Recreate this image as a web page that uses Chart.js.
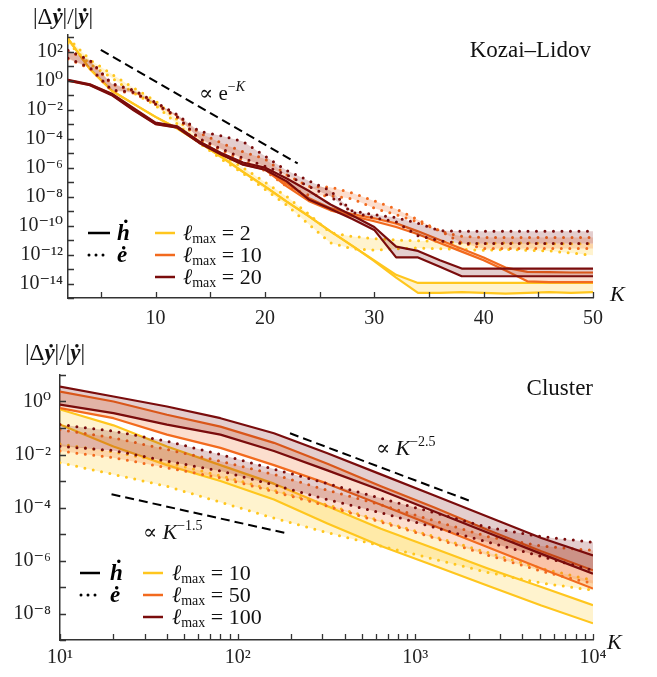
<!DOCTYPE html>
<html>
<head>
<meta charset="utf-8">
<script src="https://cdn.jsdelivr.net/npm/chart.js@4.4.1/dist/chart.umd.min.js"></script>
<style>
html, body { margin: 0; padding: 0; background: #fff; }
#wrap { position: relative; width: 657px; height: 677px; }
canvas { position: absolute; left: 0; }
#kozai { top: 0; }
#cluster { top: 340px; }
</style>
</head>
<body>
<div id="wrap">
<canvas id="kozai" width="657" height="340"></canvas>
<canvas id="cluster" width="657" height="337"></canvas>
</div>
<script>
// values are stored as log10 of |dy|/|y|

// --- Kozai-Lidov panel ---
const kozaiK = [2, 4, 6, 8, 10, 12, 14, 16, 18, 20, 22, 24, 26, 28, 30, 32, 34, 36, 38, 40, 42, 44, 46, 48, 50];

const kozaiH2Hi = [2.9, 0.8, -0.7, -1.6, -2.5, -3.3, -4.25, -5.25, -6.3, -7.3, -8.35, -9.35, -10.4, -11.4, -12.4, -13.4, -13.96, -13.96, -13.96, -13.96, -13.95, -13.95, -13.96, -13.96, -13.96];
const kozaiH2Lo = [2.9, 0.8, -0.7, -1.6, -2.5, -3.3, -4.25, -5.25, -6.3, -7.3, -8.35, -9.35, -10.4, -11.4, -12.45, -13.6, -14.65, -14.65, -14.6, -14.65, -14.7, -14.65, -14.6, -14.65, -14.6];
const kozaiH10Hi = [0.03, -0.27, -0.92, -1.95, -2.93, -3.18, -4.23, -5.02, -5.68, -6.05, -7.1, -8.1, -8.8, -9.2, -9.5, -9.85, -10.4, -11.0, -11.6, -12.2, -12.9, -13.2, -13.22, -13.24, -13.24];
const kozaiH10Lo = [0.0, -0.3, -0.96, -2.02, -2.98, -3.23, -4.28, -5.08, -5.78, -6.12, -7.3, -8.3, -8.95, -9.35, -9.7, -10.1, -10.6, -11.2, -11.8, -12.4, -13.1, -13.85, -13.9, -13.9, -13.9];
const kozaiH20Hi = [0.05, -0.25, -0.9, -1.9, -2.9, -3.15, -4.2, -5.0, -5.65, -6.0, -6.75, -7.6, -8.55, -9.3, -10.1, -11.45, -11.75, -12.4, -12.97, -12.97, -12.97, -12.97, -12.97, -12.97, -12.97];
const kozaiH20Lo = [0.0, -0.32, -1.0, -2.05, -3.0, -3.25, -4.3, -5.1, -5.8, -6.15, -6.95, -8.2, -8.85, -9.55, -10.3, -12.2, -12.2, -12.85, -13.5, -13.5, -13.5, -13.5, -13.5, -13.5, -13.5];

const kozaiE2Hi = [2.95, 1.45, 0.45, -0.5, -1.4, -2.7, -4.0, -5.1, -6.0, -7.0, -8.0, -9.2, -10.5, -10.75, -10.9, -11.0, -11.05, -11.1, -11.2, -11.25, -11.2, -11.2, -11.25, -11.25, -11.25];
const kozaiE2Lo = [2.6, 1.15, 0.2, -0.85, -1.7, -3.0, -4.3, -5.4, -6.4, -7.5, -8.6, -9.9, -11.2, -11.6, -11.7, -11.6, -11.55, -11.6, -11.65, -11.7, -11.65, -11.7, -11.75, -11.9, -12.05];
const kozaiE10Hi = [2.05, 1.35, -0.25, -0.7, -1.55, -2.4, -3.6, -4.3, -4.9, -5.4, -6.5, -7.3, -7.35, -7.75, -8.3, -8.85, -9.6, -10.4, -10.75, -10.82, -10.82, -10.82, -10.82, -10.82, -10.82];
const kozaiE10Lo = [1.5, 0.85, -0.7, -0.85, -1.65, -2.55, -4.05, -4.8, -5.5, -6.2, -7.3, -7.9, -7.95, -8.15, -8.8, -9.25, -9.75, -10.35, -11.2, -11.58, -11.58, -11.58, -11.58, -11.58, -11.58];
const kozaiE20Hi = [2.1, 1.4, -0.2, -0.65, -1.5, -2.35, -3.5, -3.8, -4.2, -5.2, -6.2, -6.9, -7.6, -9.0, -9.25, -9.45, -9.85, -10.35, -10.4, -10.4, -10.4, -10.4, -10.4, -10.4, -10.4];
const kozaiE20Lo = [1.55, 0.9, -0.65, -0.8, -1.6, -2.5, -4.0, -4.7, -5.35, -5.9, -6.5, -7.3, -8.0, -9.1, -9.45, -9.75, -10.7, -11.05, -11.24, -11.24, -11.24, -11.24, -11.24, -11.24, -11.24];

const kozaiGuideK = [5, 23];
const kozaiGuideExp = [2.12, -5.71];

const kozaiXTicks = [5, 10, 15, 20, 25, 30, 35, 40, 45, 50];
const kozaiYTicks = [-15, -14, -13, -12, -11, -10, -9, -8, -7, -6, -5, -4, -3, -2, -1, 0, 1, 2, 3];

// --- Cluster panel ---
const clusterK = [10, 20, 40, 80, 160, 320, 640, 1280, 2560, 5120, 10000];

const clusterH10Hi = [-0.3, -0.9, -1.7, -2.4, -3.1, -3.95, -4.8, -5.55, -6.3, -7.0, -7.69];
const clusterH10Lo = [-0.87, -1.7, -2.4, -3.0, -3.7, -4.6, -5.45, -6.2, -6.95, -7.7, -8.37];
const clusterH50Hi = [0.375, 0.0, -0.5, -0.95, -1.56, -2.35, -3.2, -4.0, -4.85, -5.65, -6.37];
const clusterH50Lo = [-0.25, -0.63, -1.25, -1.75, -2.4, -3.1, -3.9, -4.7, -5.5, -6.3, -7.06];
const clusterH100Hi = [0.56, 0.19, -0.19, -0.63, -1.2, -1.95, -2.75, -3.55, -4.35, -5.15, -5.81];
const clusterH100Lo = [-0.12, -0.44, -0.87, -1.25, -1.87, -2.6, -3.35, -4.15, -4.95, -5.75, -6.5];

const clusterE10Hi = [-1.6, -1.9, -2.3, -2.8, -3.35, -3.9, -4.5, -5.1, -5.7, -6.3, -6.75];
const clusterE10Lo = [-2.31, -2.75, -3.2, -3.8, -4.4, -4.95, -5.45, -5.95, -6.45, -6.85, -7.12];
const clusterE50Hi = [-1.06, -1.37, -1.81, -2.25, -2.75, -3.35, -3.9, -4.5, -5.1, -5.45, -5.62];
const clusterE50Lo = [-1.87, -2.12, -2.5, -2.88, -3.4, -3.95, -4.55, -5.15, -5.8, -6.4, -6.87];
const clusterE100Hi = [-0.87, -1.12, -1.5, -2.0, -2.55, -3.1, -3.65, -4.2, -4.75, -5.1, -5.31];
const clusterE100Lo = [-1.69, -1.85, -2.25, -2.62, -3.15, -3.7, -4.2, -4.75, -5.3, -5.85, -6.37];

const clusterGuide25K = [197, 2028];
const clusterGuide25Exp = [-1.2, -3.75];
const clusterGuide15K = [19.5, 185];
const clusterGuide15Exp = [-3.5, -4.96];

const clusterXTicks = [10, 20, 30, 40, 50, 60, 70, 80, 90, 100, 200, 300, 400, 500, 600, 700, 800, 900,
  1000, 2000, 3000, 4000, 5000, 6000, 7000, 8000, 9000, 10000];
const clusterYTicks = [-9, -8, -7, -6, -5, -4, -3, -2, -1, 0, 1];

// --- styling ---
const YELLOW = '#ffc61e';
const ORANGE = '#f26a1e';
const DARK = '#7a0c0c';
const YELLOW_FILL = 'rgba(255, 200, 30, 0.22)';
const ORANGE_FILL = 'rgba(242, 106, 30, 0.22)';
const DARK_FILL = 'rgba(122, 12, 12, 0.2)';
const SERIF = '"Liberation Serif", "DejaVu Serif", serif';

const SUP = { '0': '⁰', '1': '¹', '2': '²', '3': '³', '4': '⁴', '5': '⁵', '6': '⁶', '7': '⁷', '8': '⁸', '9': '⁹', '-': '⁻' };
const sup = n => String(n).split('').map(c => SUP[c] || c).join('');

const pts = (ks, ex) => ks.map((k, i) => ({ x: k, y: Math.pow(10, ex[i]) }));

function band(ks, hi, lo, color, fillColor, dotted) {
  const base = {
    borderColor: color,
    borderWidth: dotted ? 3 : 2.2,
    borderDash: dotted ? [0, 8.5] : [],
    borderCapStyle: dotted ? 'round' : 'butt',
    borderJoinStyle: 'round',
    pointRadius: 0,
    tension: 0,
  };
  return [
    { ...base, data: pts(ks, hi), fill: false },
    { ...base, data: pts(ks, lo), fill: '-1', backgroundColor: fillColor },
  ];
}

function guide(ks, ex) {
  return {
    data: pts(ks, ex),
    borderColor: '#000',
    borderWidth: 2,
    borderDash: [9, 5],
    pointRadius: 0,
    fill: false,
  };
}

// inward tick marks on the left and bottom axes
const inwardTicks = {
  id: 'inwardTicks',
  afterDraw(chart) {
    const { ctx, chartArea: a, scales } = chart;
    ctx.save();
    ctx.strokeStyle = '#333';
    ctx.lineWidth = 1.3;
    ctx.beginPath();
    for (const t of scales.x.ticks) {
      const px = Math.round(scales.x.getPixelForValue(t.value)) + 0.5;
      ctx.moveTo(px, a.bottom);
      ctx.lineTo(px, a.bottom - 6);
    }
    for (const t of scales.y.ticks) {
      const py = Math.round(scales.y.getPixelForValue(t.value)) + 0.5;
      ctx.moveTo(a.left, py);
      ctx.lineTo(a.left + 6, py);
    }
    ctx.stroke();
    ctx.restore();
  }
};

function runs(ctx, x, y, parts) {
  for (const [t, font, dy] of parts) {
    ctx.font = font;
    ctx.fillText(t, x, y + (dy || 0));
    x += ctx.measureText(t).width;
  }
}

const R = s => s + 'px ' + SERIF;
const I = s => 'italic ' + s + 'px ' + SERIF;
const BI = s => 'italic bold ' + s + 'px ' + SERIF;

function yLabel(ctx, x, y) {
  runs(ctx, x, y, [['|Δ', R(23)], ['ẏ', BI(23)], ['|/|', R(23)], ['ẏ', BI(23)], ['|', R(23)]]);
}

function legend(ctx, o) {
  ctx.save();
  ctx.lineWidth = 2.5;
  ctx.strokeStyle = '#000';
  ctx.beginPath();
  ctx.moveTo(o.kx1, o.rows[0]);
  ctx.lineTo(o.kx2, o.rows[0]);
  ctx.stroke();
  ctx.setLineDash([0, 7]);
  ctx.lineCap = 'round';
  ctx.lineWidth = 3;
  ctx.beginPath();
  ctx.moveTo(o.kx1 + 1, o.rows[1]);
  ctx.lineTo(o.kx2, o.rows[1]);
  ctx.stroke();
  ctx.setLineDash([]);
  ctx.lineCap = 'butt';
  ctx.fillStyle = '#000';
  runs(ctx, o.hx, o.rows[0] + 7, [['ḣ', BI(23)]]);
  runs(ctx, o.hx, o.rows[1] + 7, [['ė', BI(23)]]);
  const cols = [YELLOW, ORANGE, DARK];
  o.labels.forEach((lab, i) => {
    const y = o.rows[i];
    ctx.strokeStyle = cols[i];
    ctx.lineWidth = 2.5;
    ctx.beginPath();
    ctx.moveTo(o.cx1, y);
    ctx.lineTo(o.cx2, y);
    ctx.stroke();
    ctx.fillStyle = '#111';
    runs(ctx, o.tx, y + 7, [['ℓ', I(22)], ['max', R(14), 3], [' = ' + lab, R(22)]]);
  });
  ctx.restore();
}

const kozaiText = {
  id: 'kozaiText',
  afterDraw(chart) {
    const ctx = chart.ctx;
    ctx.save();
    ctx.fillStyle = '#111';
    ctx.textAlign = 'left';
    ctx.textBaseline = 'alphabetic';
    yLabel(ctx, 33, 24);
    runs(ctx, 199, 100, [['∝ e', R(21)], ['−', R(14), -9], ['K', I(14), -9]]);
    runs(ctx, 610, 301, [['K', I(22)]]);
    ctx.textAlign = 'right';
    ctx.font = R(23);
    ctx.fillText('Kozai–Lidov', 591, 57);
    ctx.textAlign = 'left';
    legend(ctx, { kx1: 88, kx2: 110, hx: 117, cx1: 155, cx2: 175, tx: 183, rows: [233, 255, 277], labels: ['2', '10', '20'] });
    ctx.restore();
  }
};

const clusterText = {
  id: 'clusterText',
  afterDraw(chart) {
    const ctx = chart.ctx;
    ctx.save();
    ctx.fillStyle = '#111';
    ctx.textAlign = 'left';
    ctx.textBaseline = 'alphabetic';
    yLabel(ctx, 25, 20);
    runs(ctx, 376, 115, [['∝ ', R(21)], ['K', I(22)], ['−2.5', R(14), -9]]);
    runs(ctx, 143, 199, [['∝ ', R(21)], ['K', I(22)], ['−1.5', R(14), -9]]);
    runs(ctx, 607, 309, [['K', I(22)]]);
    ctx.textAlign = 'right';
    ctx.font = R(23);
    ctx.fillText('Cluster', 593, 55);
    ctx.textAlign = 'left';
    legend(ctx, { kx1: 80, kx2: 100, hx: 110, cx1: 143, cx2: 163, tx: 172, rows: [233, 255, 277], labels: ['10', '50', '100'] });
    ctx.restore();
  }
};

const tickFont = { family: SERIF, size: 20 };
const border = { display: true, color: '#333', width: 1.5 };

new Chart(document.getElementById('kozai'), {
  type: 'line',
  data: {
    datasets: [
      guide(kozaiGuideK, kozaiGuideExp),
      ...band(kozaiK, kozaiH20Hi, kozaiH20Lo, DARK, DARK_FILL, false),
      ...band(kozaiK, kozaiE20Hi, kozaiE20Lo, DARK, DARK_FILL, true),
      ...band(kozaiK, kozaiH10Hi, kozaiH10Lo, ORANGE, ORANGE_FILL, false),
      ...band(kozaiK, kozaiE10Hi, kozaiE10Lo, ORANGE, ORANGE_FILL, true),
      ...band(kozaiK, kozaiH2Hi, kozaiH2Lo, YELLOW, YELLOW_FILL, false),
      ...band(kozaiK, kozaiE2Hi, kozaiE2Lo, YELLOW, YELLOW_FILL, true),
    ]
  },
  options: {
    responsive: false,
    animation: false,
    layout: { padding: { left: 0, right: 64, top: 35, bottom: 0 } },
    plugins: { legend: { display: false }, tooltip: { enabled: false } },
    scales: {
      x: {
        type: 'linear',
        min: 2,
        max: 50,
        afterBuildTicks: s => { s.ticks = kozaiXTicks.map(v => ({ value: v })); },
        afterFit: s => { s.height = 42; },
        ticks: {
          autoSkip: false, maxRotation: 0, padding: 9, font: tickFont, color: '#222',
          callback: v => (v % 10 === 0 ? String(v) : ''),
        },
        grid: { display: false, drawTicks: false },
        border: border,
      },
      y: {
        type: 'logarithmic',
        min: 1e-15,
        max: Math.pow(10, 3.15),
        afterBuildTicks: s => { s.ticks = kozaiYTicks.map(e => ({ value: Math.pow(10, e) })); },
        afterFit: s => { s.width = 68; },
        ticks: {
          autoSkip: false, padding: 5, font: tickFont, color: '#222',
          callback: v => { const e = Math.round(Math.log10(v)); return e % 2 === 0 ? '10' + sup(e) : ''; },
        },
        grid: { display: false, drawTicks: false },
        border: border,
      }
    }
  },
  plugins: [inwardTicks, kozaiText]
});

new Chart(document.getElementById('cluster'), {
  type: 'line',
  data: {
    datasets: [
      guide(clusterGuide25K, clusterGuide25Exp),
      guide(clusterGuide15K, clusterGuide15Exp),
      ...band(clusterK, clusterH100Hi, clusterH100Lo, DARK, DARK_FILL, false),
      ...band(clusterK, clusterE100Hi, clusterE100Lo, DARK, DARK_FILL, true),
      ...band(clusterK, clusterH50Hi, clusterH50Lo, ORANGE, ORANGE_FILL, false),
      ...band(clusterK, clusterE50Hi, clusterE50Lo, ORANGE, ORANGE_FILL, true),
      ...band(clusterK, clusterH10Hi, clusterH10Lo, YELLOW, YELLOW_FILL, false),
      ...band(clusterK, clusterE10Hi, clusterE10Lo, YELLOW, YELLOW_FILL, true),
    ]
  },
  options: {
    responsive: false,
    animation: false,
    layout: { padding: { left: 0, right: 64, top: 35, bottom: 0 } },
    plugins: { legend: { display: false }, tooltip: { enabled: false } },
    scales: {
      x: {
        type: 'logarithmic',
        min: 10,
        max: 10000,
        afterBuildTicks: s => { s.ticks = clusterXTicks.map(v => ({ value: v })); },
        afterFit: s => { s.height = 37; },
        ticks: {
          autoSkip: false, maxRotation: 0, padding: 6, font: tickFont, color: '#222',
          callback: v => {
            const e = Math.round(Math.log10(v));
            return Math.abs(v - Math.pow(10, e)) < 1e-6 * v ? '10' + sup(e) : '';
          },
        },
        grid: { display: false, drawTicks: false },
        border: border,
      },
      y: {
        type: 'logarithmic',
        min: 1e-9,
        max: 10,
        afterBuildTicks: s => { s.ticks = clusterYTicks.map(e => ({ value: Math.pow(10, e) })); },
        afterFit: s => { s.width = 60; },
        ticks: {
          autoSkip: false, padding: 9, font: tickFont, color: '#222',
          callback: v => { const e = Math.round(Math.log10(v)); return e % 2 === 0 ? '10' + sup(e) : ''; },
        },
        grid: { display: false, drawTicks: false },
        border: border,
      }
    }
  },
  plugins: [inwardTicks, clusterText]
});
</script>
</body>
</html>
